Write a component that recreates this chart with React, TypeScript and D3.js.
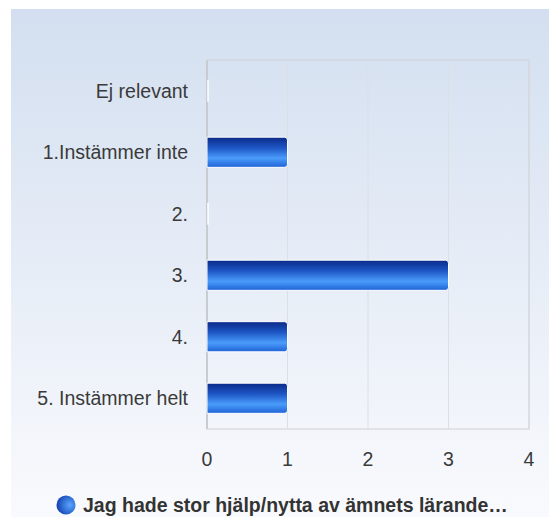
import React from "react";
import * as d3 from "d3";

const categories = ["Ej relevant", "1.Instämmer inte", "2.", "3.", "4.", "5. Instämmer helt"];
const values = [0, 1, 0, 3, 1, 1];
const xTicks = [0, 1, 2, 3, 4];
const seriesName = "Jag hade stor hjälp/nytta av ämnets lärande…";

const W = 549;
const H = 517;
const plot = { left: 207, right: 529, top: 60, bottom: 429 };

export default function App() {
  const x = d3.scaleLinear().domain([0, 4]).range([plot.left, plot.right]);
  const y = d3
    .scaleBand<string>()
    .domain(categories)
    .range([plot.top, plot.bottom])
    .paddingInner(0.51)
    .paddingOuter(0.255);
  const font = "'Liberation Sans', Arial, sans-serif";
  return (
    <svg width={W} height={H} style={{ position: "absolute", left: 0, top: 0 }}>
      <defs>
        <linearGradient id="bg" x1="0" y1="0" x2="0" y2="1">
          <stop offset="0" stopColor="#d3dff0" />
          <stop offset="1" stopColor="#f9fafd" />
        </linearGradient>
        <linearGradient id="bar" x1="0" y1="0" x2="0" y2="1">
          <stop offset="0" stopColor="#0b2a88" />
          <stop offset="0.35" stopColor="#1d55c4" />
          <stop offset="0.7" stopColor="#4a9cfb" />
          <stop offset="1" stopColor="#1f62d6" />
        </linearGradient>
        <radialGradient id="dot" cx="0.7" cy="0.5" r="0.7">
          <stop offset="0" stopColor="#5aa6ff" />
          <stop offset="1" stopColor="#1240b0" />
        </radialGradient>
      </defs>
      <rect x={11} y={9} width={W - 11} height={H - 9} fill="url(#bg)" />
      {xTicks.map((t) => (
        <line key={t} x1={x(t)} x2={x(t)} y1={plot.top} y2={plot.bottom} stroke="#dcdfe4" strokeWidth={1} />
      ))}
      <rect
        x={plot.left}
        y={plot.top}
        width={plot.right - plot.left}
        height={plot.bottom - plot.top}
        fill="none"
        stroke="#cfd2d8"
        strokeWidth={1}
      />
      <line x1={plot.left} x2={plot.left} y1={plot.top} y2={plot.bottom} stroke="#c8cbd0" strokeWidth={2} />
      {categories.map((c, i) => {
        const v = values[i];
        const by = y(c)!;
        const bh = y.bandwidth();
        const bw = x(v) - x(0);
        if (v === 0) {
          return (
            <line key={c} x1={x(0) + 1} x2={x(0) + 1} y1={by + 4} y2={by + bh - 4} stroke="#ffffff" strokeWidth={1.5} />
          );
        }
        const r = 3;
        const x0 = x(0);
        const x1 = x0 + bw;
        const path = `M${x0},${by} H${x1 - r} Q${x1},${by} ${x1},${by + r} V${by + bh - r} Q${x1},${by + bh} ${x1 - r},${by + bh} H${x0} Z`;
        return <path key={c} d={path} fill="url(#bar)" stroke="#ffffff" strokeWidth={1} />;
      })}
      {categories.map((c) => (
        <text
          key={c}
          x={188}
          y={y(c)! + y.bandwidth() / 2}
          textAnchor="end"
          dominantBaseline="central"
          fontFamily={font}
          fontSize={19.5}
          fill="#3a3a3a"
        >
          {c}
        </text>
      ))}
      {xTicks.map((t) => (
        <text
          key={t}
          x={x(t)}
          y={459}
          textAnchor="middle"
          dominantBaseline="central"
          fontFamily={font}
          fontSize={19.5}
          fill="#3a3a3a"
        >
          {t}
        </text>
      ))}
      <circle cx={66} cy={505} r={9.5} fill="url(#dot)" />
      <text x={83} y={505} dominantBaseline="central" fontFamily={font} fontSize={19.5} fontWeight="bold" fill="#333333">
        {seriesName}
      </text>
    </svg>
  );
}
